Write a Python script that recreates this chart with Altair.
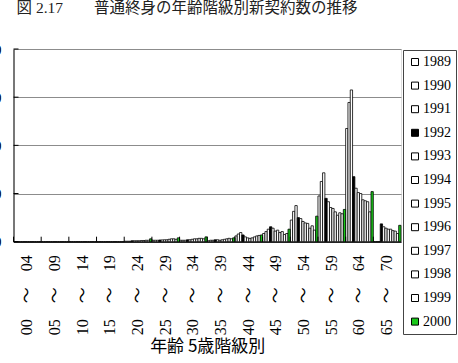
import altair as alt
import pandas as pd

# Age-group categories (x axis)
ages = ["00～04", "05～09", "10～14", "15～19", "20～24", "25～29", "30～34",
        "35～39", "40～44", "45～49", "50～54", "55～59", "60～64", "65～70"]

# Series (years)
years = ["1989", "1990", "1991", "1992", "1993", "1994",
         "1995", "1996", "1997", "1998", "1999", "2000"]

# Values per year, one per age group
y1989 = [0, 0, 0, 0, 1, 3, 3, 2, 12, 17, 45, 95, 235, 0]
y1990 = [0, 0, 0, 0, 1, 3, 3, 3, 16, 21, 63, 125, 289, 0]
y1991 = [0, 0, 0, 0, 1, 3, 3, 3, 19, 26, 75, 143, 315, 0]
y1992 = [0, 0, 0, 0, 2, 3.5, 4, 4, 14, 31, 50, 90, 135, 37]
y1993 = [0, 0, 0, 0, 2, 3.7, 4, 4, 10, 28, 48, 83, 111, 31]
y1994 = [0, 0, 0, 0, 2, 4, 5, 3, 8, 22, 42, 71, 102, 28]
y1995 = [0, 0, 0, 0, 2, 4, 6, 4, 7, 24, 39, 69, 100, 26]
y1996 = [0, 0, 0, 0, 2.5, 5, 6, 5, 8, 19, 38, 62, 87, 26]
y1997 = [0, 0, 0, 0, 2.5, 6, 7, 6, 10, 21, 28, 55, 85, 23]
y1998 = [0, 0, 0, 0, 3, 6, 7, 7, 12, 15, 33, 60, 83, 22]
y1999 = [0, 0, 0, 0, 3, 5, 6, 6, 13, 17, 24, 58, 62, 17]
y2000 = [0, 0, 0, 0, 6, 8, 10, 8, 14, 26, 53, 67, 104, 34]
series = [y1989, y1990, y1991, y1992, y1993, y1994,
          y1995, y1996, y1997, y1998, y1999, y2000]

# Y axis tick values
yticks = [0, 100, 200, 300, 400]

# Fill colours per year
fills = ["#ffffff", "#ffffff", "#ffffff", "#000000", "#ffffff", "#ffffff",
         "#ffffff", "#ffffff", "#ffffff", "#ffffff", "#ffffff", "#19c819"]

rows = []
for yr, vals in zip(years, series):
    for a, v in zip(ages, vals):
        rows.append({"age": a, "year": yr, "value": v})
df = pd.DataFrame(rows)

W, H = 387.5, 192.7
SERIF = "Liberation Serif, Noto Sans CJK JP"

xscale = alt.Scale(paddingInner=0, paddingOuter=0)

bars = alt.Chart(df).mark_bar(stroke="black", strokeWidth=0.8).encode(
    x=alt.X("age:N", sort=ages, scale=xscale,
            axis=alt.Axis(title="年齢 5歳階級別", labelAngle=270, ticks=False,
                          labelPadding=13, labelFont=SERIF, labelFontSize=16,
                          labelColor="black", labelOverlap=False,
                          labelExpr="replace(datum.label, '～', '　〜　')",
                          domainColor="black", titleFont="Noto Sans CJK JP",
                          titleFontSize=17, titleFontWeight="normal",
                          titleColor="black", titleY=105, titleBaseline="middle")),
    xOffset=alt.XOffset("year:N", sort=years,
                        scale=alt.Scale(paddingInner=0, paddingOuter=0)),
    y=alt.Y("value:Q", scale=alt.Scale(domain=[0, 400], nice=False),
            axis=alt.Axis(title=None, values=yticks, grid=True, ticks=False,
                          labelPadding=12.5, labelFont=SERIF, labelFontSize=15,
                          labelColor="black", domainColor="black",
                          gridColor="#8c8c8c", gridWidth=1)),
    color=alt.Color("year:N", sort=years,
                    scale=alt.Scale(domain=years, range=fills),
                    legend=alt.Legend(title=None, orient="none", legendX=389.5,
                                      legendY=1, symbolType="square",
                                      symbolSize=49, symbolStrokeColor="black",
                                      symbolStrokeWidth=1, labelFont="Liberation Serif",
                                      labelFontSize=14, labelColor="black",
                                      rowPadding=9.6, padding=5, labelOffset=1,
                                      strokeColor="#444", fillColor="white")),
)

xt = alt.Chart(pd.DataFrame({"age": ages})).mark_rule(color="black", strokeWidth=1).encode(
    x=alt.X("age:N", sort=ages, bandPosition=0),
    y=alt.value(H), y2=alt.value(H - 5),
)

yt = alt.Chart(pd.DataFrame({"value": yticks})).mark_rule(color="black", strokeWidth=1).encode(
    y=alt.Y("value:Q"),
    x=alt.value(0), x2=alt.value(5),
)

chart = alt.layer(bars, xt, yt).properties(
    width=W, height=H,
    autosize=alt.AutoSizeParams(type="none"),
    padding={"left": 13.5, "top": 49, "right": 57, "bottom": 121.3},
    title=alt.TitleParams(text="図 2.17　　普通終身の年齢階級別新契約数の推移",
                          anchor="start", frame="group", dx=3, offset=26,
                          font=SERIF, fontSize=15.5, fontWeight="normal",
                          color="#222"),
).configure_view(stroke=None).configure(background="white")

chart.save("out.html", embed_options={"renderer": "svg", "actions": False})
